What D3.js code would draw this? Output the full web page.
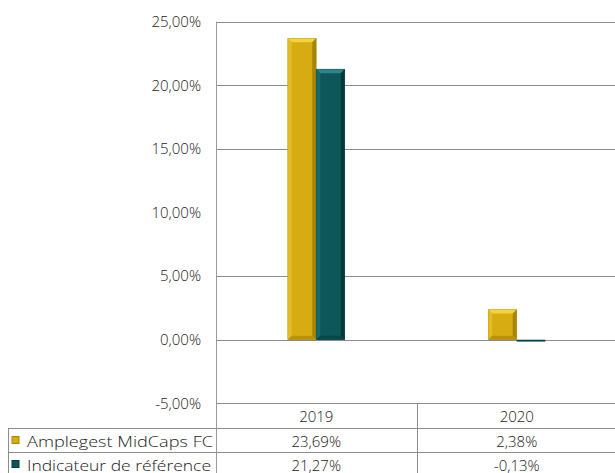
<!DOCTYPE html>
<html>
<head>
<meta charset="utf-8">
<script src="https://cdn.jsdelivr.net/npm/d3@7"></script>
<style>
  html, body { margin: 0; padding: 0; background: #fff; }
  svg { display: block; }
  text { font-family: "Century Gothic", "Open Sans", sans-serif; font-weight: 300; fill: #1a1a1a; }
</style>
</head>
<body>
<svg id="chart" width="615" height="473"></svg>
<script>
const categories = ["2019", "2020"];
const seriesNames = ["Amplegest MidCaps FC", "Indicateur de référence"];
const fundValues = [23.69, 2.38];
const benchValues = [21.27, -0.13];
const yTicks = [-5, 0, 5, 10, 15, 20, 25];
const tableLabels = [["23,69%", "2,38%"], ["21,27%", "-0,13%"]];

const series = [
  { name: seriesNames[0], values: fundValues,
    base: "#D6AC12", top: "#F3D43C", left: "#E4BC20", right: "#A7850A", bottom: "#B8920C" },
  { name: seriesNames[1], values: benchValues,
    base: "#0E5759", top: "#2E8587", left: "#146B6D", right: "#063839", bottom: "#0A4647" }
];

const svg = d3.select("#chart");
const plotLeft = 216, plotRight = 617, plotTop = 21.7, plotBottom = 403.3;
const rowH = 24.2;
const tableLeft = 8;

const y = d3.scaleLinear().domain([-5, 25]).range([plotBottom, plotTop]);
const x = d3.scaleBand().domain(categories).range([plotLeft, plotRight]).padding(0);
const x1 = d3.scaleBand().domain([0, 1]).range([0, 57]);
const barOffset = (x.bandwidth() - 57) / 2;

const fmt = v => d3.format(".2f")(v).replace(".", ",").replace("\u2212", "-") + "%";

// gridlines (10% line is absent in reference)
svg.append("g").selectAll("line")
  .data(yTicks.filter(t => t !== 10 && t !== -5))
  .join("line")
  .attr("x1", plotLeft).attr("x2", 615)
  .attr("y1", d => Math.round(y(d)) + 0.5).attr("y2", d => Math.round(y(d)) + 0.5)
  .attr("stroke", "#8c8c8c").attr("stroke-width", 1);

// y axis labels
const yAxis = d3.axisLeft(y).tickValues(yTicks).tickFormat(fmt).tickSize(0).tickPadding(15);
const ya = svg.append("g").attr("transform", `translate(${plotLeft},0)`).call(yAxis);
ya.select(".domain").remove();
ya.selectAll("text").style("font-size", "15px").attr("fill", "#1a1a1a")
  .attr("font-family", "'Century Gothic','Open Sans',sans-serif").attr("font-weight", 300);

// bars
function bevelBar(g, x0, w, yv, s) {
  const y0 = Math.min(y(0), y(yv)), h = Math.abs(y(yv) - y(0));
  g.append("rect").attr("x", x0).attr("y", y0).attr("width", w).attr("height", Math.max(h, 1.5))
    .attr("fill", s.base);
  if (h < 8) {
    g.append("rect").attr("x", x0).attr("y", y0 + Math.max(h,1.5) - 1).attr("width", w).attr("height", 1)
      .attr("fill", s.right);
    return;
  }
  const b = 4;
  const x2 = x0 + w, y2 = y0 + h;
  const poly = (pts, fill) => g.append("polygon").attr("points", pts.map(p => p.join(",")).join(" ")).attr("fill", fill);
  poly([[x0, y0], [x2, y0], [x2 - b, y0 + b], [x0 + b, y0 + b]], s.top);
  poly([[x0, y0], [x0 + b, y0 + b], [x0 + b, y2 - b], [x0, y2]], s.left);
  poly([[x2, y0], [x2, y2], [x2 - b, y2 - b], [x2 - b, y0 + b]], s.right);
  poly([[x0, y2], [x0 + b, y2 - b], [x2 - b, y2 - b], [x2, y2]], s.bottom);
  g.append("rect").attr("x", x0).attr("y", y0).attr("width", w).attr("height", h)
    .attr("fill", "none").attr("stroke", s.right).attr("stroke-opacity", 0.5).attr("stroke-width", 0.6);
}
const barsG = svg.append("g");
series.forEach((s, si) => {
  categories.forEach((c, ci) => {
    bevelBar(barsG, x(c) + barOffset + x1(si), x1.bandwidth(), s.values[ci], s);
  });
});

// axis line (left)
svg.append("line").attr("x1", plotLeft + 0.5).attr("x2", plotLeft + 0.5)
  .attr("y1", plotTop).attr("y2", 473).attr("stroke", "#9a9a9a");

// table
const t = svg.append("g");
const line = (x1v, y1v, x2v, y2v) => t.append("line")
  .attr("x1", x1v).attr("y1", y1v).attr("x2", x2v).attr("y2", y2v)
  .attr("stroke", "#8c8c8c").attr("stroke-width", 1);
const rowY = [Math.round(plotBottom) + 0.5, Math.round(plotBottom + rowH) + 0.5, Math.round(plotBottom + 2 * rowH) + 0.5];
line(plotLeft, rowY[0], 615, rowY[0]);
line(tableLeft, rowY[1], 615, rowY[1]);
line(tableLeft, rowY[2], 615, rowY[2]);
line(tableLeft + 0.5, rowY[1], tableLeft + 0.5, 473);
line(Math.round(x("2020")) + 0.5, rowY[0], Math.round(x("2020")) + 0.5, 473);

// header
t.selectAll("text.cat").data(categories).join("text")
  .attr("class", "cat")
  .attr("x", d => x(d) + x.bandwidth() / 2)
  .attr("y", rowY[0] + 18)
  .attr("text-anchor", "middle").style("font-size", "15px").text(d => d);

// values
series.forEach((s, si) => {
  categories.forEach((c, ci) => {
    t.append("text")
      .attr("x", x(c) + x.bandwidth() / 2)
      .attr("y", rowY[si + 1] + 18)
      .attr("text-anchor", "middle").style("font-size", "15px")
      .text(tableLabels[si][ci]);
  });
  // legend key
  const ky = rowY[si + 1] + 8;
  t.append("rect").attr("x", 12).attr("y", ky).attr("width", 7).attr("height", 7)
    .attr("fill", s.base).attr("stroke", s.right).attr("stroke-width", 1);
  t.append("text").attr("x", 27).attr("y", rowY[si + 1] + 18)
    .style("font-size", "15px")
    .attr("textLength", si === 0 ? 186 : 184).attr("lengthAdjust", "spacingAndGlyphs")
    .text(s.name);
});
</script>
</body>
</html>
